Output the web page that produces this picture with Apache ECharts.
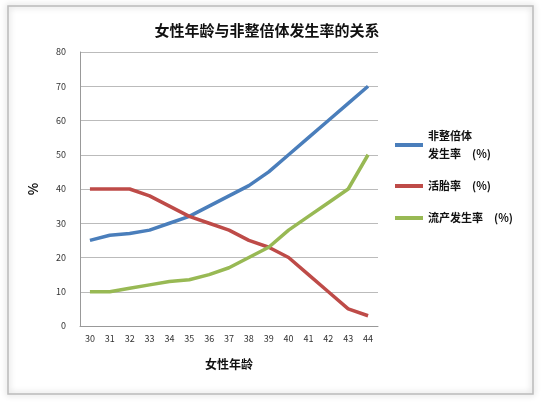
<!DOCTYPE html>
<html><head><meta charset="utf-8">
<script src="https://cdn.jsdelivr.net/npm/echarts@6/dist/echarts.min.js"></script>
<style>html,body{margin:0;padding:0;background:#fff}#c{width:545px;height:407px}</style>
</head><body><div id="c"></div>
<script>
const ages = ['30','31','32','33','34','35','36','37','38','39','40','41','42','43','44'];
const aneuploidy = [25,26.5,27,28,30,32,35,38,41,45,50,55,60,65,70];
const liveBirth = [40,40,40,38,35,32,30,28,25,23,20,15,10,5,3];
const miscarriage = [10,10,11,12,13,13.5,15,17,20,23,28,32,36,40,50];
const names = ['非整倍体\n发生率','活胎率','流产发生率'];
const chart = echarts.init(document.getElementById('c'));
const font = '"Noto Sans CJK SC", sans-serif';
chart.setOption({
  textStyle:{fontFamily:font},
  title:{text:'女性年龄与非整倍体发生率的关系',left:262,top:18,textAlign:'center',
    textStyle:{fontSize:15,fontWeight:'bold',color:'#111',fontFamily:font}},
  graphic:[{type:'rect',shape:{x:8,y:6,width:525,height:388},
    style:{fill:'none',stroke:'#bbb',lineWidth:1.5,shadowBlur:6,shadowColor:'rgba(0,0,0,0.3)'}}],
  grid:{left:80,right:167,top:52,bottom:81},
  legend:{orient:'vertical',left:390,top:122,itemGap:14,itemWidth:28,itemHeight:4,icon:'rect',
    data:names,
    formatter:n=>n+'  {p|(%)}',
    textStyle:{fontSize:11,fontWeight:'bold',color:'#111',lineHeight:18,rich:{p:{fontSize:11,color:'#111',padding:[0,0,0,6]}}}},
  xAxis:{type:'category',data:ages,boundaryGap:true,name:'女性年龄',nameLocation:'middle',nameGap:32,
    nameTextStyle:{fontSize:12,fontWeight:'bold',color:'#111'},
    axisLine:{lineStyle:{color:'#999'}},axisTick:{show:false},
    axisLabel:{fontSize:9,color:'#333'}},
  yAxis:{type:'value',min:0,max:80,interval:10,name:'%',nameLocation:'middle',nameGap:40,
    nameTextStyle:{fontSize:13,fontWeight:'bold',color:'#111'},
    axisLine:{show:true,lineStyle:{color:'#999'}},
    axisLabel:{fontSize:9,color:'#333',margin:14},splitLine:{lineStyle:{color:'#bbb'}}},
  series:[
    {name:names[0],type:'line',data:aneuploidy,showSymbol:false,lineStyle:{width:3.5,color:'#4a7ebb'},itemStyle:{color:'#4a7ebb'}},
    {name:names[1],type:'line',data:liveBirth,showSymbol:false,lineStyle:{width:3.5,color:'#be4b48'},itemStyle:{color:'#be4b48'}},
    {name:names[2],type:'line',data:miscarriage,showSymbol:false,lineStyle:{width:3.5,color:'#98b954'},itemStyle:{color:'#98b954'}}
  ]
});
</script></body></html>
